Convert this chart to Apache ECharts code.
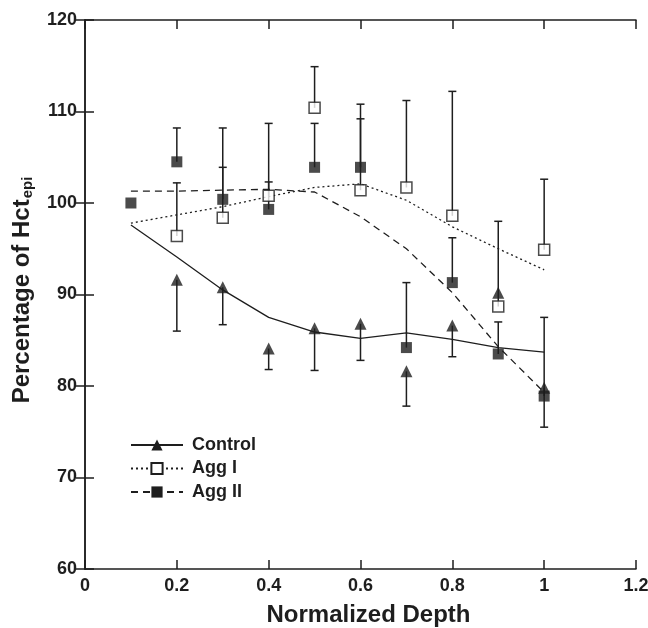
<!DOCTYPE html>
<html><head><meta charset="utf-8">
<script src="https://cdn.jsdelivr.net/npm/echarts@6/dist/echarts.min.js"></script>
<style>html,body{margin:0;padding:0;background:#fff}#c{width:648px;height:628px}</style>
</head><body><div id="c"></div>
<script>
var xTicks = [0, 0.2, 0.4, 0.6, 0.8, 1, 1.2];
var depthAll = [0.1, 0.2, 0.3, 0.4, 0.5, 0.6, 0.7, 0.8, 0.9, 1.0];
var depthPts = [0.2, 0.3, 0.4, 0.5, 0.6, 0.7, 0.8, 0.9, 1.0];
var controlVals = [91.6, 90.8, 84.1, 86.3, 86.8, 81.6, 86.6, 90.2, 79.8];
var controlErrEnd = [86.0, 86.7, 81.8, 81.7, 82.8, 77.8, 83.2, null, 75.5];
var agg1Vals = [96.4, 98.4, 100.8, 110.4, 101.4, 101.7, 98.6, 88.7, 94.9];
var agg1ErrEnd = [102.2, 103.9, 108.7, 114.9, 110.8, 111.2, 112.2, 98.0, 102.6];
var agg2Vals = [100.0, 104.5, 100.4, 99.3, 103.9, 103.9, 84.2, 91.3, 83.5, 78.9];
var agg2ErrEnd = [null, 108.2, 108.2, 102.3, 108.7, 109.2, 91.3, 96.2, 87.0, 87.5];
var controlFit = [97.6, 94.1, 90.5, 87.5, 85.9, 85.2, 85.8, 85.1, 84.2, 83.7];
var agg1Fit = [97.8, 98.7, 99.6, 100.7, 101.7, 102.1, 100.3, 97.4, 95.0, 92.7];
var agg2Fit = [101.3, 101.3, 101.4, 101.5, 101.2, 98.5, 95.0, 90.2, 84.3, 79.3];

var INK = '#1e1e1e';
var FONT = 'Liberation Sans, Arial, sans-serif';
function pairs(xs, ys){ return xs.map(function(x,i){ return [x, ys[i]]; }); }
function errData(xs, vals, ends){
  var out = [];
  xs.forEach(function(x,i){ if(ends[i]!=null) out.push([x, vals[i], ends[i]]); });
  return out;
}
function errSeries(data){
  return {
    type:'custom', data:data, z:3, silent:true,
    renderItem:function(params, api){
      var p0 = api.coord([api.value(0), api.value(1)]);
      var p1 = api.coord([api.value(0), api.value(2)]);
      var st = {stroke:INK, lineWidth:1.5};
      return {type:'group', children:[
        {type:'line', shape:{x1:p0[0],y1:p0[1],x2:p1[0],y2:p1[1]}, style:st},
        {type:'line', shape:{x1:p1[0]-4,y1:p1[1],x2:p1[0]+4,y2:p1[1]}, style:st}
      ]};
    }
  };
}
var axisLbl = {color:INK, fontFamily:FONT, fontWeight:'bold', fontSize:18};
var chart = echarts.init(document.getElementById('c'));
chart.setOption({
  animation:false,
  grid:{left:85, right:12, top:20, bottom:59, containLabel:false, outerBoundsMode:'none'},
  legend:{
    left:125, top:431, orient:'vertical', itemWidth:52, itemHeight:14, itemGap:5.5,
    data:['Control','Agg I','Agg II'],
    textStyle:{color:INK, fontFamily:FONT, fontWeight:'bold', fontSize:18, lineHeight:18, padding:[0,0,0,4]}
  },
  xAxis:[{
    type:'value', min:0, max:1.2, interval:0.2,
    name:'Normalized Depth', nameLocation:'middle', nameGap:34,
    nameTextStyle:{color:INK, fontFamily:FONT, fontWeight:'bold', fontSize:24, padding:[0,0,0,16]},
    axisLine:{lineStyle:{color:INK, width:1.5}},
    axisTick:{inside:true, length:9, lineStyle:{color:INK, width:1.5}},
    axisLabel:Object.assign({margin:8, formatter:function(v){ return String(+v.toFixed(1)); }}, axisLbl),
    splitLine:{show:false}
  },{
    type:'value', min:0, max:1.2, interval:0.2, position:'top',
    axisLine:{lineStyle:{color:INK, width:1.5}},
    axisTick:{inside:true, length:9, lineStyle:{color:INK, width:1.5}},
    axisLabel:{show:false}, splitLine:{show:false}
  }],
  yAxis:[{
    type:'value', min:60, max:120, interval:10,
    name:'{a|Percentage of Hct}{b|epi}', nameLocation:'middle', nameGap:50,
    nameTextStyle:{padding:[0,0,0,9], rich:{
      a:{color:INK, fontFamily:FONT, fontWeight:'bold', fontSize:24},
      b:{color:INK, fontFamily:FONT, fontWeight:'bold', fontSize:15, padding:[10,0,0,1]}
    }},
    axisLine:{lineStyle:{color:INK, width:1.5}},
    axisTick:{inside:true, length:9, lineStyle:{color:INK, width:1.5}},
    axisLabel:Object.assign({margin:8}, axisLbl),
    splitLine:{show:false}
  },{
    type:'value', min:60, max:120, interval:10, position:'right',
    axisLine:{lineStyle:{color:INK, width:1.5}},
    axisTick:{inside:true, length:9, lineStyle:{color:INK, width:1.5}},
    axisLabel:{show:false}, splitLine:{show:false}
  }],
  series:[
    {name:'Control', type:'line', data:pairs(depthAll, controlFit), symbol:'triangle', symbolSize:11, showSymbol:false,
      itemStyle:{color:INK}, lineStyle:{color:INK, width:1.3, type:'solid'}, z:2},
    {name:'Agg I', type:'line', data:pairs(depthAll, agg1Fit), symbol:'rect', symbolSize:11, showSymbol:false,
      itemStyle:{color:'#fff', borderColor:INK, borderWidth:1.5}, lineStyle:{color:INK, width:1.3, type:[2,3]}, z:2},
    {name:'Agg II', type:'line', data:pairs(depthAll, agg2Fit), symbol:'rect', symbolSize:11, showSymbol:false,
      itemStyle:{color:INK}, lineStyle:{color:INK, width:1.3, type:[7,5]}, z:2},
    errSeries(errData(depthPts, controlVals, controlErrEnd)),
    errSeries(errData(depthPts, agg1Vals, agg1ErrEnd)),
    errSeries(errData(depthAll, agg2Vals, agg2ErrEnd)),
    {name:'Control pts', type:'scatter', data:pairs(depthPts, controlVals), symbol:'triangle', symbolSize:12,
      itemStyle:{color:INK}, z:5},
    {name:'Agg I pts', type:'scatter', data:pairs(depthPts, agg1Vals), symbol:'rect', symbolSize:11,
      itemStyle:{color:'#fff', borderColor:INK, borderWidth:1.5}, z:5},
    {name:'Agg II pts', type:'scatter', data:pairs(depthAll, agg2Vals), symbol:'rect', symbolSize:11,
      itemStyle:{color:INK}, z:6}
  ]
});
</script></body></html>
